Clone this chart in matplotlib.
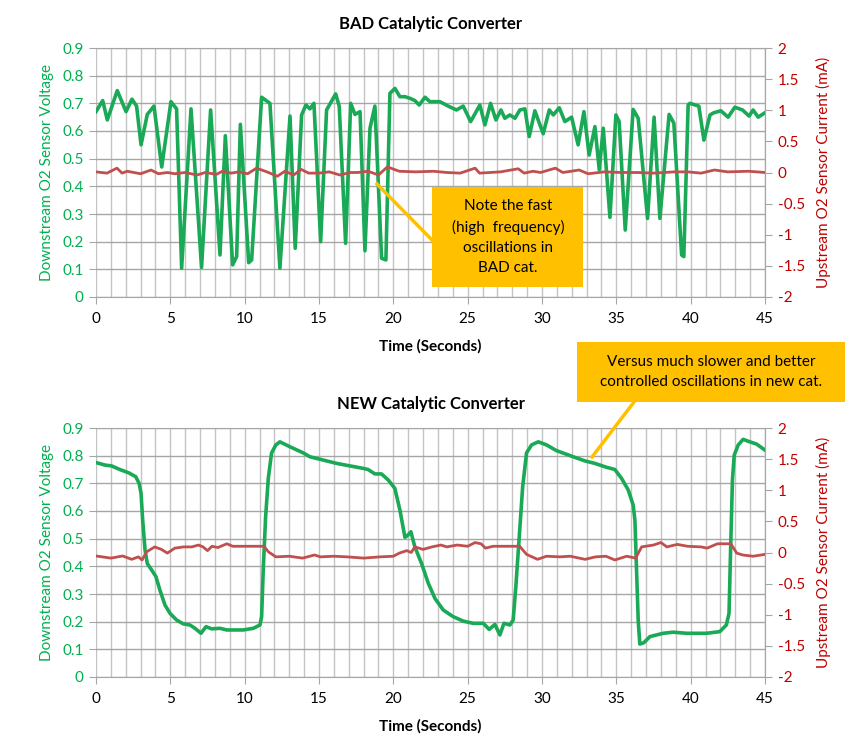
import matplotlib
matplotlib.use("Agg")
import matplotlib.pyplot as plt
from matplotlib.patches import Rectangle
from matplotlib.lines import Line2D
from matplotlib.ticker import MultipleLocator

plt.rcParams['font.family'] = ['Lato', 'DejaVu Sans']

# BAD cat - downstream voltage
bad_t = [0, 0.45, 0.76, 1.43, 2.02, 2.42, 2.73, 3.03, 3.45, 3.9, 4.42, 5.04, 5.42, 5.76, 6.39,
         7.1, 7.71, 8.34, 8.7, 9.19, 9.46, 9.71, 10.27, 10.47, 11.14, 11.7, 12.37, 13.05, 13.4,
         13.83, 14.12, 14.39, 14.66, 15.11, 15.51, 16.12, 16.36, 16.79, 17.13, 17.42, 17.76,
         18.09, 18.43, 18.76, 19.21, 19.5, 19.77, 20.11, 20.44, 20.78, 21.12, 21.45, 21.74,
         22.13, 22.46, 23.13, 23.69, 24.25, 24.7, 25.2, 25.82, 26.16, 26.54, 26.9, 27.24, 27.5,
         27.84, 28.18, 28.51, 28.85, 29.14, 29.52, 30.08, 30.49, 30.76, 31.16, 31.54, 31.99,
         32.43, 32.82, 33.17, 33.56, 33.85, 34.12, 34.57, 34.97, 35.19, 35.6, 36.13, 36.47,
         37.1, 37.54, 37.93, 38.55, 38.87, 39.39, 39.54, 39.83, 39.95, 40.55, 40.89, 41.3,
         41.56, 42.03, 42.52, 42.97, 43.49, 43.93, 44.2, 44.54, 45]
bad_v = [0.67, 0.71, 0.64, 0.746, 0.67, 0.715, 0.69, 0.55, 0.66, 0.69, 0.47, 0.706, 0.68, 0.104,
         0.68, 0.107, 0.676, 0.152, 0.583, 0.116, 0.146, 0.624, 0.124, 0.134, 0.722, 0.70, 0.104,
         0.654, 0.176, 0.658, 0.694, 0.68, 0.70, 0.20, 0.676, 0.734, 0.69, 0.194, 0.70, 0.66,
         0.67, 0.167, 0.61, 0.69, 0.14, 0.134, 0.736, 0.754, 0.724, 0.724, 0.718, 0.71, 0.694,
         0.722, 0.706, 0.706, 0.69, 0.676, 0.69, 0.634, 0.694, 0.622, 0.70, 0.64, 0.676, 0.646,
         0.658, 0.646, 0.676, 0.68, 0.58, 0.673, 0.59, 0.676, 0.658, 0.684, 0.634, 0.65, 0.55,
         0.67, 0.513, 0.616, 0.46, 0.61, 0.288, 0.658, 0.634, 0.242, 0.678, 0.646, 0.284, 0.65,
         0.284, 0.66, 0.628, 0.152, 0.146, 0.694, 0.70, 0.69, 0.567, 0.658, 0.666, 0.673, 0.65,
         0.686, 0.676, 0.654, 0.676, 0.65, 0.666]

# BAD cat - upstream current
bad_ct = [0, 0.74, 1.41, 1.75, 2.1, 3.0, 3.7, 4.2, 4.8, 5.3, 6.0, 6.8, 7.35, 8.1, 8.5, 9.1, 9.6,
          10.2, 10.8, 11.5, 12.2, 12.7, 13.3, 13.8, 14.3, 15.0, 15.7, 16.4, 17.1, 17.6, 18.3,
          19.0, 19.6, 20.4, 21.5, 22.7, 23.6, 24.5, 25.5, 25.8, 27.2, 28.4, 28.8, 29.4, 29.9,
          30.9, 31.4, 32.5, 33.1, 34.2, 35.3, 36.4, 37.5, 38.9, 39.8, 40.7, 41.6, 42.5, 43.9, 45]
bad_c = [0.01, -0.01, 0.07, -0.01, 0.02, -0.02, 0.04, -0.02, 0.0, -0.02, 0.0, -0.04, 0.0, -0.03,
         0.02, -0.01, 0.01, -0.02, 0.07, 0.01, -0.06, 0.02, -0.04, 0.05, -0.01, -0.01, 0.01,
         -0.04, 0.0, 0.0, 0.02, -0.04, 0.09, 0.02, 0.01, 0.02, 0.0, -0.01, 0.07, -0.01, 0.01,
         0.06, -0.01, 0.02, 0.0, 0.07, 0.0, 0.04, -0.02, 0.01, 0.0, 0.0, -0.01, 0.01, 0.01,
         -0.01, 0.04, 0.01, 0.02, 0.0]

# NEW cat - downstream voltage
new_t = [0, 0.6, 1.05, 1.6, 2.2, 2.67, 2.9, 3.03, 3.14, 3.3, 3.45, 3.74, 4.03, 4.3, 4.64, 4.98,
         5.42, 5.87, 6.32, 6.66, 7.06, 7.4, 7.78, 8.34, 8.79, 9.9, 10.58, 11.03, 11.14, 11.25,
         11.41, 11.59, 11.81, 12.1, 12.37, 13.05, 13.94, 14.39, 15.29, 16.19, 17.08, 17.98, 18.3,
         18.76, 19.2, 19.66, 20.1, 20.44, 20.78, 20.93, 21.18, 21.45, 21.9, 22.35, 22.8, 23.36,
         24.03, 24.7, 25.37, 26.05, 26.45, 26.83, 27.17, 27.44, 27.84, 28.06, 28.24, 28.47, 28.7,
         28.96, 29.3, 29.75, 30.3, 30.98, 31.65, 32.1, 32.89, 33.56, 34.34, 34.9, 35.35, 35.8,
         36.13, 36.25, 36.36, 36.47, 36.58, 36.85, 37.26, 37.7, 38.15, 38.82, 39.72, 41.06,
         41.96, 42.4, 42.58, 42.68, 42.81, 42.93, 43.2, 43.53, 43.98, 44.43, 45]
new_v = [0.775, 0.766, 0.763, 0.75, 0.738, 0.724, 0.70, 0.664, 0.567, 0.459, 0.41, 0.387, 0.363,
         0.314, 0.26, 0.23, 0.206, 0.192, 0.188, 0.176, 0.158, 0.182, 0.174, 0.176, 0.17, 0.17,
         0.176, 0.188, 0.218, 0.387, 0.58, 0.718, 0.81, 0.839, 0.85, 0.832, 0.81, 0.796, 0.784,
         0.772, 0.763, 0.754, 0.75, 0.734, 0.734, 0.712, 0.682, 0.604, 0.505, 0.51, 0.525, 0.47,
         0.41, 0.339, 0.284, 0.242, 0.218, 0.202, 0.194, 0.194, 0.172, 0.19, 0.152, 0.194, 0.188,
         0.206, 0.326, 0.507, 0.688, 0.81, 0.839, 0.85, 0.839, 0.818, 0.805, 0.796, 0.781, 0.772,
         0.758, 0.75, 0.718, 0.676, 0.622, 0.567, 0.387, 0.206, 0.119, 0.124, 0.146, 0.152,
         0.158, 0.162, 0.158, 0.158, 0.164, 0.188, 0.23, 0.447, 0.712, 0.802, 0.839, 0.859,
         0.85, 0.842, 0.82]

# NEW cat - upstream current
new_ct = [0, 1.0, 1.8, 2.4, 2.85, 3.1, 3.4, 3.95, 4.4, 4.8, 5.3, 5.9, 6.45, 6.9, 7.2, 7.5, 7.8,
          8.2, 8.8, 9.2, 10.0, 10.6, 11.3, 11.6, 12.1, 13.0, 13.9, 14.7, 15.1, 16.0, 16.9, 18.0,
          19.1, 20.0, 20.4, 20.9, 21.2, 21.45, 22.0, 22.6, 23.2, 23.6, 24.3, 25.0, 25.5, 25.9,
          26.2, 26.7, 27.6, 28.5, 28.96, 29.7, 30.3, 31.2, 31.9, 32.9, 33.6, 34.3, 34.9, 35.7,
          36.3, 36.7, 37.5, 38.0, 38.4, 39.1, 39.8, 40.7, 41.1, 41.8, 42.7, 43.1, 43.5, 44.2, 45]
new_c = [-0.056, -0.09, -0.056, -0.11, -0.07, -0.12, 0.01, 0.09, 0.05, -0.01, 0.07, 0.09, 0.09,
         0.12, 0.09, 0.03, 0.1, 0.08, 0.14, 0.1, 0.1, 0.1, 0.1, 0.01, -0.07, -0.06, -0.09, -0.04,
         -0.07, -0.06, -0.07, -0.09, -0.07, -0.06, -0.01, 0.03, 0.0, 0.09, 0.05, 0.09, 0.12,
         0.09, 0.12, 0.1, 0.16, 0.14, 0.07, 0.1, 0.1, 0.1, -0.03, -0.11, -0.06, -0.07, -0.06,
         -0.11, -0.07, -0.06, -0.12, -0.06, -0.09, 0.09, 0.12, 0.16, 0.09, 0.13, 0.1, 0.09,
         0.07, 0.14, 0.14, -0.01, -0.04, -0.06, -0.03]

titles = ['BAD Catalytic Converter', 'NEW Catalytic Converter']
note1 = 'Note the fast\n(high  frequency)\noscillations in\nBAD cat.'
note2 = 'Versus much slower and better\ncontrolled oscillations in new cat.'

GREEN = '#1aa956'
RED = '#c0504d'
GREEN_TXT = '#00b050'
RED_TXT = '#c00000'
ORANGE = '#ffc000'

W, H = 847, 744
fig = plt.figure(figsize=(W / 100, H / 100), dpi=100)


def fx(px):
    return px / W


def fy(py):
    return 1 - py / H


def make_panel(top_px, bot_px, t, v, ct, c, title):
    ax = fig.add_axes([fx(96), fy(bot_px), fx(765) - fx(96), fy(top_px) - fy(bot_px)])
    ax.set_xlim(0, 45)
    ax.set_ylim(0, 0.9)
    ax.xaxis.set_major_locator(MultipleLocator(5))
    ax.xaxis.set_minor_locator(MultipleLocator(1))
    ax.yaxis.set_major_locator(MultipleLocator(0.1))
    ax.grid(which='minor', axis='x', color='#c4c4c4', lw=1)
    ax.grid(which='major', axis='x', color='#c4c4c4', lw=1)
    ax.grid(which='major', axis='y', color='#a6a6a6', lw=1)
    ax.set_axisbelow(True)
    for s in ax.spines.values():
        s.set_color('#a6a6a6')
    ax.spines['left'].set_visible(False)
    ax.tick_params(axis='x', which='minor', length=0)
    ax.tick_params(axis='x', which='major', length=5, color='#a6a6a6', labelsize=11, pad=6)
    ax.tick_params(axis='y', length=5, color='#a6a6a6', labelsize=11, labelcolor=GREEN_TXT, pad=4)
    ax.set_yticks([i / 10 for i in range(10)])
    ax.set_yticklabels(['0'] + ['%.1f' % (i / 10) for i in range(1, 10)])
    ax.plot(t, v, color=GREEN, lw=2.6, solid_joinstyle='round', zorder=3)
    ax.set_xlabel('Time (Seconds)', fontsize=11, fontweight='bold', labelpad=9)
    ax.set_ylabel('Downstream O2 Sensor Voltage', fontsize=11, color=GREEN_TXT, labelpad=6)
    ax.set_title(title, fontsize=12, fontweight='bold', pad=14)

    ax2 = ax.twinx()
    ax2.set_ylim(-2, 2)
    ax2.set_yticks([-2, -1.5, -1, -0.5, 0, 0.5, 1, 1.5, 2])
    ax2.set_yticklabels(['-2', '-1.5', '-1', '-0.5', '0', '0.5', '1', '1.5', '2'])
    ax2.tick_params(axis='y', length=5, color='#a6a6a6', labelsize=11, labelcolor=RED_TXT, pad=4)
    for s in ax2.spines.values():
        s.set_visible(False)
    ax2.spines['right'].set_visible(True)
    ax2.spines['right'].set_color('#a6a6a6')
    ax2.plot(ct, c, color=RED, lw=2.0, solid_joinstyle='round', zorder=2)
    ax2.set_ylabel('Upstream O2 Sensor Current (mA)', fontsize=11, color=RED_TXT, labelpad=8)
    return ax


make_panel(48, 297, bad_t, bad_v, bad_ct, bad_c, titles[0])
make_panel(428, 677, new_t, new_v, new_ct, new_c, titles[1])

# callout boxes
fig.add_artist(Line2D([fx(377), fx(433)], [fy(184), fy(241)], color=ORANGE, lw=2.5))
fig.add_artist(Rectangle((fx(432), fy(287)), fx(583) - fx(432), fy(187) - fy(287),
                         transform=fig.transFigure, facecolor=ORANGE, edgecolor='none'))
fig.text(fx(508), fy(237), note1, ha='center', va='center', fontsize=11, linespacing=1.55)

fig.add_artist(Line2D([fx(592), fx(634)], [fy(457), fy(402)], color=ORANGE, lw=2.5))
fig.add_artist(Rectangle((fx(577), fy(402)), fx(845) - fx(577), fy(342) - fy(402),
                         transform=fig.transFigure, facecolor=ORANGE, edgecolor='none'))
fig.text(fx(711), fy(372), note2, ha='center', va='center', fontsize=11, linespacing=1.55)

fig.savefig('out.png', dpi=100)
